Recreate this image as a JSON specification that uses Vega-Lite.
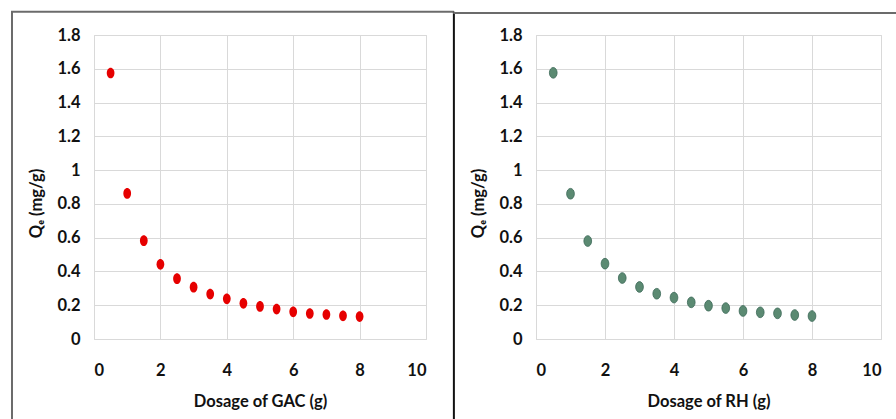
{
  "$schema": "https://vega.github.io/schema/vega-lite/v6.json",
  "padding": {"left": 9, "top": 10, "right": 0, "bottom": 0},
  "background": "white",
  "bounds": "flush",
  "spacing": 110,
  "datasets": {
    "gac": [
      {"dosage": 0.5, "qe": 1.575},
      {"dosage": 1.0, "qe": 0.862},
      {"dosage": 1.5, "qe": 0.582},
      {"dosage": 2.0, "qe": 0.442},
      {"dosage": 2.5, "qe": 0.357},
      {"dosage": 3.0, "qe": 0.307},
      {"dosage": 3.5, "qe": 0.266},
      {"dosage": 4.0, "qe": 0.238},
      {"dosage": 4.5, "qe": 0.211},
      {"dosage": 5.0, "qe": 0.193},
      {"dosage": 5.5, "qe": 0.177},
      {"dosage": 6.0, "qe": 0.161},
      {"dosage": 6.5, "qe": 0.151},
      {"dosage": 7.0, "qe": 0.145},
      {"dosage": 7.5, "qe": 0.137},
      {"dosage": 8.0, "qe": 0.133}
    ],
    "rh": [
      {"dosage": 0.5, "qe": 1.576},
      {"dosage": 1.0, "qe": 0.860},
      {"dosage": 1.5, "qe": 0.580},
      {"dosage": 2.0, "qe": 0.446},
      {"dosage": 2.5, "qe": 0.361},
      {"dosage": 3.0, "qe": 0.308},
      {"dosage": 3.5, "qe": 0.268},
      {"dosage": 4.0, "qe": 0.245},
      {"dosage": 4.5, "qe": 0.217},
      {"dosage": 5.0, "qe": 0.197},
      {"dosage": 5.5, "qe": 0.183},
      {"dosage": 6.0, "qe": 0.166},
      {"dosage": 6.5, "qe": 0.158},
      {"dosage": 7.0, "qe": 0.152},
      {"dosage": 7.5, "qe": 0.142},
      {"dosage": 8.0, "qe": 0.136}
    ],
    "one": [{}]
  },
  "config": {
    "view": {"stroke": "#d9d9d9", "strokeWidth": 1},
    "axis": {
      "labelFont": "Lato",
      "labelFontWeight": "bold",
      "labelFontSize": 16.5,
      "labelColor": "#111111",
      "labelOverlap": false,
      "titleFont": "Lato",
      "titleFontWeight": "bold",
      "titleFontSize": 16.5,
      "titleColor": "#111111",
      "grid": true,
      "gridColor": "#d9d9d9",
      "gridWidth": 1,
      "domain": false,
      "ticks": false
    },
    "axisX": {"labelPadding": 23, "titlePadding": 15},
    "axisY": {"labelPadding": 14, "titlePadding": 12, "titleY": 168}
  },
  "hconcat": [
    {
      "width": 332,
      "height": 304,
      "layer": [
        {
          "data": {"name": "gac"},
          "mark": {"type": "point", "filled": true, "opacity": 1, "shape": "M-0.72,0 A0.72,1 0 1,0 0.72,0 A0.72,1 0 1,0 -0.72,0 Z", "size": 115, "color": "#e60000"},
          "encoding": {
            "x": {"field": "dosage", "type": "quantitative", "scale": {"domain": [0, 10], "nice": false},
                  "axis": {"values": [0, 2, 4, 6, 8, 10], "title": "Dosage of GAC (g)"}},
            "y": {"field": "qe", "type": "quantitative", "scale": {"domain": [0, 1.8], "nice": false},
                  "axis": {"values": [0, 0.2, 0.4, 0.6, 0.8, 1, 1.2, 1.4, 1.6, 1.8], "format": "~g", "title": "Qₑ (mg/g)"}}
          }
        },
        {
          "data": {"name": "one"},
          "mark": {"type": "rule", "color": "#6b6b6b", "strokeWidth": 2},
          "encoding": {
            "x": {"datum": -2.47, "type": "quantitative", "scale": {"domain": [0, 10], "nice": false},
                  "axis": {"values": [0, 2, 4, 6, 8, 10], "title": "Dosage of GAC (g)"}},
            "y": {"datum": 1.937, "type": "quantitative", "scale": {"domain": [0, 1.8], "nice": false},
                  "axis": {"values": [0, 0.2, 0.4, 0.6, 0.8, 1, 1.2, 1.4, 1.6, 1.8], "format": "~g", "title": "Qₑ (mg/g)"}},
            "y2": {"datum": -0.6}
          }
        },
        {
          "data": {"name": "one"},
          "mark": {"type": "rule", "color": "#6b6b6b", "strokeWidth": 2},
          "encoding": {
            "x": {"datum": -2.5, "type": "quantitative", "scale": {"domain": [0, 10], "nice": false},
                  "axis": {"values": [0, 2, 4, 6, 8, 10], "title": "Dosage of GAC (g)"}},
            "x2": {"datum": 10.84},
            "y": {"datum": 1.937, "type": "quantitative", "scale": {"domain": [0, 1.8], "nice": false},
                  "axis": {"values": [0, 0.2, 0.4, 0.6, 0.8, 1, 1.2, 1.4, 1.6, 1.8], "format": "~g", "title": "Qₑ (mg/g)"}}
          }
        },
        {
          "data": {"name": "one"},
          "mark": {"type": "rule", "color": "#111111", "strokeWidth": 2},
          "encoding": {
            "x": {"datum": 10.84, "type": "quantitative", "scale": {"domain": [0, 10], "nice": false},
                  "axis": {"values": [0, 2, 4, 6, 8, 10], "title": "Dosage of GAC (g)"}},
            "y": {"datum": 1.937, "type": "quantitative", "scale": {"domain": [0, 1.8], "nice": false},
                  "axis": {"values": [0, 0.2, 0.4, 0.6, 0.8, 1, 1.2, 1.4, 1.6, 1.8], "format": "~g", "title": "Qₑ (mg/g)"}},
            "y2": {"datum": -0.6}
          }
        }
      ]
    },
    {
      "width": 345,
      "height": 304,
      "layer": [
        {
          "data": {"name": "rh"},
          "mark": {"type": "point", "filled": true, "opacity": 1, "shape": "M-0.72,0 A0.72,1 0 1,0 0.72,0 A0.72,1 0 1,0 -0.72,0 Z", "size": 115, "color": "#5b8a72", "stroke": "#3f6b5a", "strokeWidth": 0.8},
          "encoding": {
            "x": {"field": "dosage", "type": "quantitative", "scale": {"domain": [0, 10], "nice": false},
                  "axis": {"values": [0, 2, 4, 6, 8, 10], "title": "Dosage of RH (g)"}},
            "y": {"field": "qe", "type": "quantitative", "scale": {"domain": [0, 1.8], "nice": false},
                  "axis": {"values": [0, 0.2, 0.4, 0.6, 0.8, 1, 1.2, 1.4, 1.6, 1.8], "format": "~g", "title": "Qₑ (mg/g)"}}
          }
        },
        {
          "data": {"name": "one"},
          "mark": {"type": "rule", "color": "#6b6b6b", "strokeWidth": 2},
          "encoding": {
            "x": {"datum": -2.4, "type": "quantitative", "scale": {"domain": [0, 10], "nice": false},
                  "axis": {"values": [0, 2, 4, 6, 8, 10], "title": "Dosage of RH (g)"}},
            "x2": {"datum": 10.6},
            "y": {"datum": 1.93, "type": "quantitative", "scale": {"domain": [0, 1.8], "nice": false},
                  "axis": {"values": [0, 0.2, 0.4, 0.6, 0.8, 1, 1.2, 1.4, 1.6, 1.8], "format": "~g", "title": "Qₑ (mg/g)"}}
          }
        }
      ]
    }
  ]
}
